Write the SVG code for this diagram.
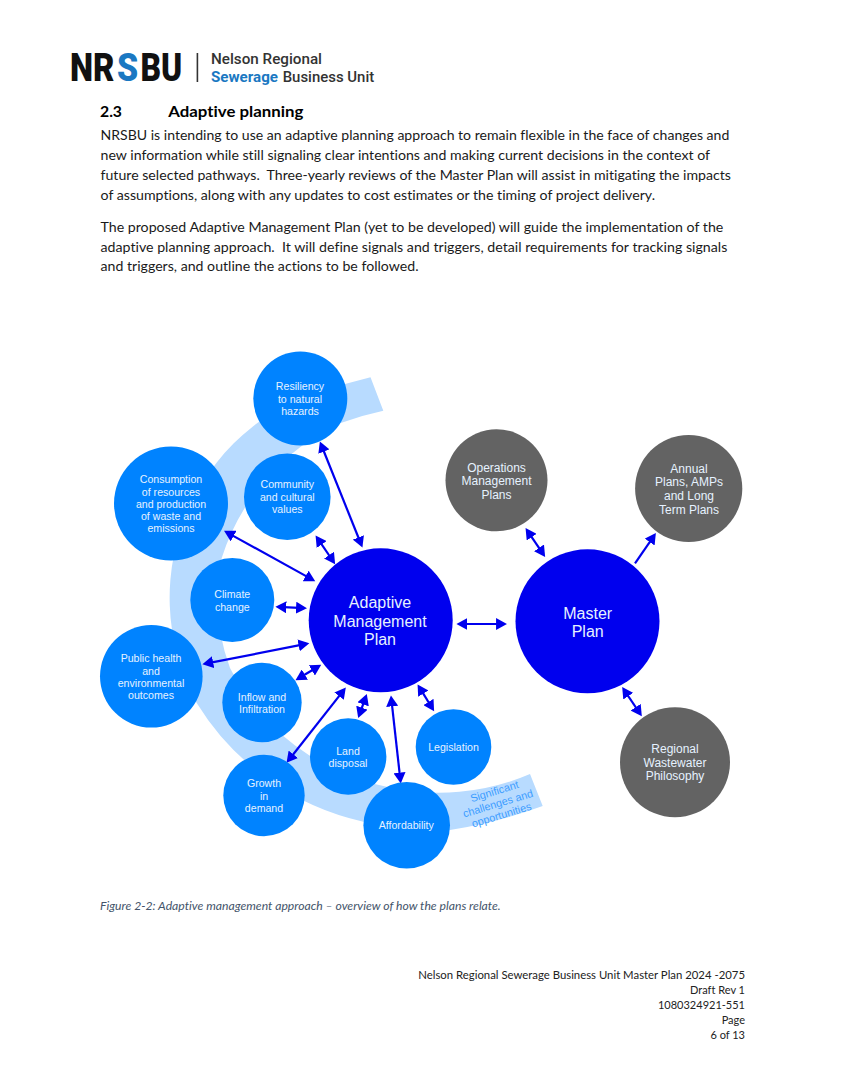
<svg xmlns="http://www.w3.org/2000/svg" width="844" height="1092" viewBox="0 0 844 1092">
<style>
text{font-variant-ligatures:none}
.b{font-family:"Lato","Open Sans",sans-serif;font-size:13.4px;fill:#1a1a1a}
.f{font-family:"Lato","Open Sans",sans-serif;font-size:11px;fill:#222;text-anchor:end}
.h{font-family:"Lato","Open Sans",sans-serif;font-size:15.6px;font-weight:700;fill:#000}
.cap{font-family:"Lato","Open Sans",sans-serif;font-size:11px;font-style:italic;fill:#44546a}
.l{font-family:"Roboto","Liberation Sans",sans-serif;font-size:15px;font-weight:500;fill:#333}
.logo{font-family:"Roboto","Liberation Sans",sans-serif;font-size:38px;font-weight:900;fill:#111}
.t{font-family:"Liberation Sans",Arial,sans-serif;text-anchor:middle;fill:#e6f2ff}
.s{font-size:10.6px}.m{font-size:12px}.g{font-size:16px}
.n1{fill:#0083ff}.n2{fill:#0000ee}.n3{fill:#636363}
.c{stroke:#0000ee;stroke-width:2.2;fill:none;marker-end:url(#ah)}
.d{marker-start:url(#ah)}
</style>
<defs>
<marker id="ah" markerUnits="userSpaceOnUse" markerWidth="12" markerHeight="12" refX="7" refY="5.5" orient="auto-start-reverse" viewBox="0 0 11 11">
<path d="M0,0 L10,5.5 L0,11 Z" fill="#0000ee"/>
</marker>
</defs>
<rect width="844" height="1092" fill="#fff"/>
<g id="logo">
<text class="logo" transform="translate(70,81) scale(.865,1)">NR</text>
<text class="logo" transform="translate(117,81) scale(.89,1)" style="fill:#1a78c2">S</text>
<text class="logo" transform="translate(140.5,81) scale(.84,1)">BU</text>
<rect x="196.6" y="53" width="1.6" height="29" fill="#333"/>
<text class="l" x="211" y="64" textLength="111" lengthAdjust="spacingAndGlyphs">Nelson Regional</text>
<text class="l" x="211" y="81.5" style="font-weight:700;fill:#1a78c2" textLength="67" lengthAdjust="spacingAndGlyphs">Sewerage</text>
<text class="l" x="282.7" y="81.5" textLength="91.5" lengthAdjust="spacingAndGlyphs">Business Unit</text>
</g>
<g id="page-text">
<text class="h" x="100" y="117.3" textLength="22" lengthAdjust="spacingAndGlyphs">2.3</text>
<text class="h" x="168.3" y="117.3" textLength="135" lengthAdjust="spacingAndGlyphs">Adaptive planning</text>
<text class="b" x="100.5" y="140" textLength="628.8" lengthAdjust="spacingAndGlyphs">NRSBU is intending to use an adaptive planning approach to remain flexible in the face of changes and</text>
<text class="b" x="100.5" y="160" textLength="609.5" lengthAdjust="spacingAndGlyphs">new information while still signaling clear intentions and making current decisions in the context of</text>
<text class="b" x="100.5" y="180" textLength="630.5" lengthAdjust="spacingAndGlyphs" xml:space="preserve">future selected pathways.  Three-yearly reviews of the Master Plan will assist in mitigating the impacts</text>
<text class="b" x="100.5" y="200" textLength="554.5" lengthAdjust="spacingAndGlyphs">of assumptions, along with any updates to cost estimates or the timing of project delivery.</text>
<text class="b" x="100.5" y="231.7" textLength="622.8" lengthAdjust="spacingAndGlyphs">The proposed Adaptive Management Plan (yet to be developed) will guide the implementation of the</text>
<text class="b" x="100.5" y="251.7" textLength="626.8" lengthAdjust="spacingAndGlyphs" xml:space="preserve">adaptive planning approach.  It will define signals and triggers, detail requirements for tracking signals</text>
<text class="b" x="100.5" y="271.3" textLength="318" lengthAdjust="spacingAndGlyphs">and triggers, and outline the actions to be followed.</text>
<text class="cap" x="100" y="910" textLength="400.7" lengthAdjust="spacingAndGlyphs">Figure 2-2: Adaptive management approach – overview of how the plans relate.</text>
<text class="f" x="745" y="979" textLength="326.7" lengthAdjust="spacingAndGlyphs">Nelson Regional Sewerage Business Unit Master Plan 2024 -2075</text>
<text class="f" x="745" y="994">Draft Rev 1</text>
<text class="f" x="745" y="1009">1080324921-551</text>
<text class="f" x="745" y="1023.5">Page</text>
<text class="f" x="745" y="1039">6 of 13</text>
</g>
<g id="band">
<path d="M370.5,377.3 L345,384 A218,218 0 0 0 196.7,703 A262,262 0 0 0 363.3,821.7 A400,400 0 0 0 450,830 A500,500 0 0 0 542.7,806 L530,774 A230,230 0 0 1 386.7,786.7 A226,226 0 0 1 230,668 A200,200 0 0 1 221.7,558 A224,224 0 0 1 340,423.3 A300,300 0 0 1 383.3,410.7 Z" fill="#b8dbff"/>
<g font-family="Liberation Sans,Arial,sans-serif" font-size="10.8" fill="#3d9dff" text-anchor="middle">
<text transform="translate(495.5,795) rotate(-17)">Significant</text>
<text transform="translate(499,807) rotate(-17)">challenges and</text>
<text transform="translate(502.5,818.5) rotate(-17)">opportunities</text>
</g>
</g>
<g id="connectors">
<line class="c d" x1="321.1" y1="444.5" x2="361.2" y2="544.5"/>
<line class="c d" x1="317.4" y1="538.2" x2="333.3" y2="561.5"/>
<line class="c d" x1="226.9" y1="532.4" x2="312.4" y2="579.6"/>
<line class="c d" x1="278.7" y1="606.9" x2="303.7" y2="608.1"/>
<line class="c d" x1="205.6" y1="663.7" x2="306.1" y2="643.9"/>
<line class="c d" x1="298.3" y1="678.5" x2="318.4" y2="666.5"/>
<line class="c d" x1="288.6" y1="760.3" x2="343.8" y2="690.1"/>
<line class="c d" x1="359.3" y1="714.9" x2="365.7" y2="697.1"/>
<line class="c d" x1="400.4" y1="780.3" x2="391.3" y2="698.7"/>
<line class="c d" x1="432.4" y1="708.5" x2="419.3" y2="687.2"/>
<line class="c d" x1="459.7" y1="624" x2="503.7" y2="624"/>
<line class="c d" x1="527.4" y1="530.8" x2="543.3" y2="554.2"/>
<line class="c" x1="635" y1="563.3" x2="654" y2="535.8"/>
<line class="c d" x1="624" y1="689.8" x2="640" y2="713.5"/>
</g>
<g id="resiliency"><circle class="n1" cx="300.3" cy="398.5" r="47"/><text class="t s" x="300" y="390">Resiliency</text><text class="t s" x="300" y="402.5">to natural</text><text class="t s" x="300" y="414.7">hazards</text></g>
<g id="community"><circle class="n1" cx="287.3" cy="496.7" r="43.3"/><text class="t s" x="287.3" y="488.3">Community</text><text class="t s" x="287.3" y="500.6">and cultural</text><text class="t s" x="287.3" y="512.8">values</text></g>
<g id="consumption"><circle class="n1" cx="171" cy="503.5" r="57"/><text class="t s" x="171" y="483.3">Consumption</text><text class="t s" x="171" y="495.6">of resources</text><text class="t s" x="171" y="507.8">and production</text><text class="t s" x="171" y="520.1">of waste and</text><text class="t s" x="171" y="532.3">emissions</text></g>
<g id="climate"><circle class="n1" cx="232.3" cy="600" r="42"/><text class="t s" x="232.3" y="598.3">Climate</text><text class="t s" x="232.3" y="610.6">change</text></g>
<g id="public-health"><circle class="n1" cx="151.3" cy="676.3" r="51.3"/><text class="t s" x="151" y="662.3">Public health</text><text class="t s" x="151" y="674.6">and</text><text class="t s" x="151" y="686.9">environmental</text><text class="t s" x="151" y="699.1">outcomes</text></g>
<g id="inflow"><circle class="n1" cx="262" cy="702.5" r="39.7"/><text class="t s" x="262" y="700.6">Inflow and</text><text class="t s" x="262" y="712.8">Infiltration</text></g>
<g id="growth"><circle class="n1" cx="264" cy="795.5" r="40.7"/><text class="t s" x="264" y="787.4">Growth</text><text class="t s" x="264" y="799.7">in</text><text class="t s" x="264" y="812">demand</text></g>
<g id="land"><circle class="n1" cx="348.2" cy="756.5" r="38.2"/><text class="t s" x="348" y="754.7">Land</text><text class="t s" x="348" y="767">disposal</text></g>
<g id="legislation"><circle class="n1" cx="453.5" cy="747" r="37.8"/><text class="t s" x="453.5" y="751.3">Legislation</text></g>
<g id="affordability"><circle class="n1" cx="406.7" cy="825.3" r="43.3"/><text class="t s" x="406.3" y="829.3">Affordability</text></g>
<g id="adaptive"><circle class="n2" cx="380.7" cy="620.3" r="72"/><text class="t g" x="380" y="608.4">Adaptive</text><text class="t g" x="380" y="626.7">Management</text><text class="t g" x="380" y="645">Plan</text></g>
<g id="master"><circle class="n2" cx="587.5" cy="621.3" r="72"/><text class="t g" x="587.7" y="618.7">Master</text><text class="t g" x="587.7" y="637">Plan</text></g>
<g id="operations"><circle class="n3" cx="496.5" cy="480.3" r="51"/><text class="t m" x="496.5" y="471.7">Operations</text><text class="t m" x="496.5" y="485.3">Management</text><text class="t m" x="496.5" y="498.8">Plans</text></g>
<g id="annual"><circle class="n3" cx="688.7" cy="488.5" r="53.6"/><text class="t m" x="689" y="472.7">Annual</text><text class="t m" x="689" y="486.4">Plans, AMPs</text><text class="t m" x="689" y="500.1">and Long</text><text class="t m" x="689" y="513.8">Term Plans</text></g>
<g id="regional"><circle class="n3" cx="675" cy="762.3" r="55"/><text class="t m" x="675" y="752.8">Regional</text><text class="t m" x="675" y="766.5">Wastewater</text><text class="t m" x="675" y="780.2">Philosophy</text></g>
</svg>
